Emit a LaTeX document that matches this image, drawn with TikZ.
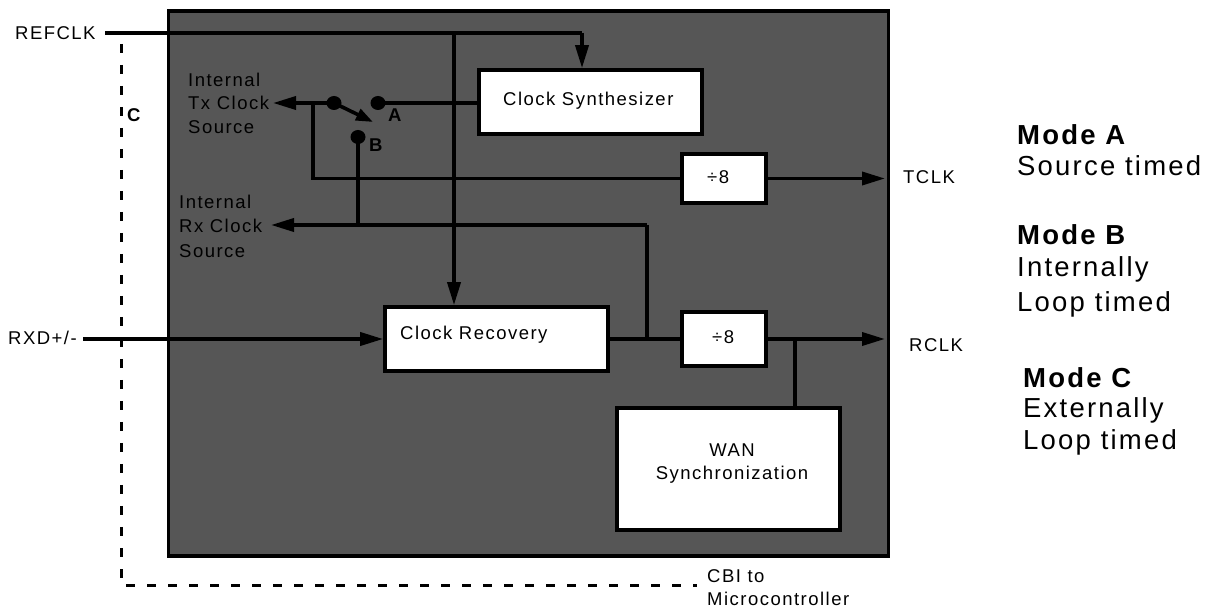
\documentclass[tikz,border=0pt]{standalone}
\usepackage{fontspec}
\setmainfont{Liberation Sans}[LetterSpace=8]
\usetikzlibrary{arrows.meta,shapes.geometric}
\definecolor{chipgray}{RGB}{86,86,86}
\begin{document}
\begin{tikzpicture}[x=1pt,y=-1pt,
 wire/.style={line width=3.6pt},
 arr/.style={wire,-{Triangle[length=23pt,width=13pt]}},
 swarr/.style={wire,-{Triangle[length=17pt,width=12pt]}},
 box/.style={draw,line width=3.6pt,fill=white,inner sep=0pt,rectangle},
 txt/.style={font=\fontsize{18.5}{22}\selectfont,inner sep=0pt,anchor=base west},
 txtc/.style={txt,anchor=base},
 txtb/.style={txt,font=\fontsize{18.5}{22}\selectfont\bfseries},
 big/.style={font=\fontsize{27.5}{32}\selectfont,inner sep=0pt,anchor=base west},
 bigb/.style={big,font=\fontsize{27.5}{32}\selectfont\bfseries},
 dot/.style={ellipse,fill=black,minimum width=15pt,minimum height=14pt,inner sep=0pt},
 cbi/.style={line width=3pt,dash pattern=on 9pt off 12pt}]
\useasboundingbox (0,0) rectangle (1211,609);
% chip body
\node[draw,line width=3.6pt,fill=chipgray,minimum width=720pt,minimum height=545pt,inner sep=0pt,anchor=north west] (chip) at (166.5,9) {};
% dashed CBI path
\coordinate (cstart) at (121,44);
\coordinate (cend) at (697,585);
\draw[cbi] (cstart) |- (cend);
% blocks
\node[box,minimum width=223pt,minimum height=64pt] (synth) at (590.5,102) {};
\node[box,minimum width=84pt,minimum height=49pt] (div1) at (724,178.5) {};
\node[box,minimum width=223pt,minimum height=64pt] (rec) at (496.5,339) {};
\node[box,minimum width=84pt,minimum height=54pt] (div2) at (724,339) {};
\node[box,minimum width=223pt,minimum height=122pt] (wan) at (728.5,469) {};
% switch contacts
\node[dot] (com) at (334,103) {};
\node[dot] (ca) at (378,103) {};
\node[dot] (cb) at (358,137) {};
\coordinate (swtip) at (373,122);
% REFCLK
\coordinate (refin) at (105,33);
\coordinate (reftap) at (454,33);
\coordinate (refcorner) at (582,33);
\draw[wire] (refin) -- (refcorner);
\draw[arr] (refcorner) -- (refcorner |- synth.north);
\draw[arr] (reftap) -- (reftap |- rec.north);
% switch
\draw[swarr] (com.center) -- (swtip);
\draw[wire] (ca.center) -- (ca.center -| synth.west);
\coordinate (txtip) at (273,103);
\draw[arr] (com.center) -- (txtip);
\coordinate (txtap) at (313,103);
\draw[wire] (txtap) |- (div1.west);
\coordinate (tclkend) at (885,178.5);
\draw[arr] (div1.east) -- (tclkend);
% Rx internal
\coordinate (rxtap) at (647,225);
\coordinate (rxtip) at (271,225);
\draw[arr] (rxtap) -- (rxtip);
\draw[wire] (cb.center) -- (cb.center |- rxtap);
\draw[wire] (rxtap) -- (rxtap |- rec.east);
% RXD path
\coordinate (rxdin) at (83,339);
\draw[arr] (rxdin) -- (rec.west);
\draw[wire] (rec.east) -- (div2.west);
\coordinate (rclkend) at (885,339);
\draw[arr] (div2.east) -- (rclkend);
\coordinate (wantap) at (795,339);
\draw[wire] (wantap) -- (wantap |- wan.north);
% block texts
\node[txt] (synthtxt) at (503,106) {Clock Synthesizer};
\node[txt] (rectxt) at (400,340) {Clock Recovery};
\node[txt] (div1txt) at (707,184) {÷8};
\node[txt] (div2txt) at (712,344) {÷8};
\node[txtc] (wantxt1) at (732,457) {WAN};
\node[txtc] (wantxt2) at (732,480) {Synchronization};
% labels
\node[txt] (reflbl) at (15,40) {REFCLK};
\node[txt] (rxdlbl) at (8,345) {RXD+/-};
\node[txt] (tx1) at (188,87) {Internal};
\node[txt] (tx2) at (188,110) {Tx Clock};
\node[txt] (tx3) at (188,134) {Source};
\node[txt] (rx1) at (179,209) {Internal};
\node[txt] (rx2) at (179,233) {Rx Clock};
\node[txt] (rx3) at (179,258) {Source};
\node[txtb] (clbl) at (127,122) {C};
\node[txtb] (albl) at (388,122) {A};
\node[txtb] (blbl) at (369,152) {B};
\node[txt] (tclk) at (903,184) {TCLK};
\node[txt] (rclk) at (909,352) {RCLK};
\node[txt] (cbi1) at (707,582) {CBI to};
\node[txt] (cbi2) at (707,605) {Microcontroller};
% modes
\node[bigb] (ma) at (1017,145) {Mode A};
\node[big] (ma1) at (1017,176) {Source timed};
\node[bigb] (mb) at (1017,245) {Mode B};
\node[big] (mb1) at (1017,277) {Internally};
\node[big] (mb2) at (1017,312) {Loop timed};
\node[bigb] (mc) at (1023,388) {Mode C};
\node[big] (mc1) at (1023,418) {Externally};
\node[big] (mc2) at (1023,450) {Loop timed};
\end{tikzpicture}
\end{document}
